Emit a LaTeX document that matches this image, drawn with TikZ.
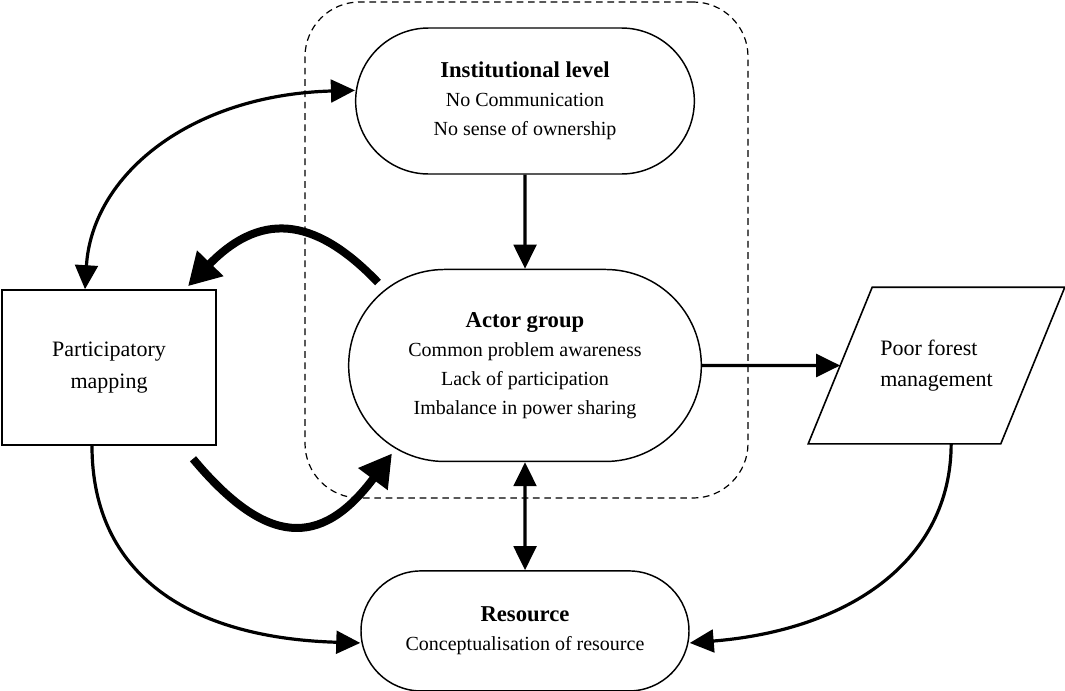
\documentclass[tikz,border=0pt]{standalone}
\usepackage{fontspec}
\setmainfont{Liberation Serif}
\usetikzlibrary{arrows.meta,positioning,shapes.misc}
\newcommand{\hd}[1]{{\fontsize{17}{21.75}\selectfont\bfseries #1}}
\tikzset{lvl/.style={draw,rounded rectangle,line width=1.1pt,align=center,font=\fontsize{15}{21.75}\selectfont,inner sep=2pt},pmbox/.style={draw,rectangle,line width=1.2pt,align=center,font=\fontsize{16.5}{23.5}\selectfont,minimum width=160.5pt,minimum height=116.25pt},pfbox/.style={pmbox,draw=none,align=left,minimum width=143.25pt},grp/.style={draw,dash pattern=on 5pt off 3.5pt,line width=0.9pt,rounded corners=41pt,minimum width=332.25pt,minimum height=372pt},flow/.style={-{Triangle[length=18pt,width=17pt]},line width=2.4pt},both/.style={flow,{Triangle[length=18pt,width=17pt]}-{Triangle[length=18pt,width=17pt]}},heavy/.style={-{Triangle[length=24pt,width=26pt]},line width=6pt}}
\begin{document}
\begin{tikzpicture}[x=0.75pt,y=-0.75pt,node distance=70.5pt]
\useasboundingbox (0,0) rectangle (1065,690);
\node[grp] (grp) at (526.5,250) {};
\node[lvl,minimum width=258pt,minimum height=109.5pt] (inst) at (525,101) {\hd{Institutional level}\\No Communication\\No sense of ownership};
\node[lvl,minimum width=268.5pt,minimum height=144pt,below=of inst] (actor) {\hd{Actor group}\\Common problem awareness\\Lack of participation\\Imbalance in power sharing};
\node[lvl,minimum width=250pt,minimum height=90pt,below=81pt of actor] (res) {\hd{Resource}\\Conceptualisation of resource};
\node[pmbox] (pm) at (109,367.5) {Participatory\\mapping};
\node[pfbox] (pf) at (936.5,365.5) {Poor forest\\management};
\draw[line width=1.2pt] ([xshift=24pt]pf.north west)--([xshift=24pt]pf.north east)--([xshift=-24pt]pf.south east)--([xshift=-24pt]pf.south west)--cycle;
\draw[both] ([xshift=-18pt]pm.north) .. controls (92,175) and (190,95) .. ([yshift=8pt]inst.west);
\draw[flow] (inst)--(actor);\draw[flow] (actor)--(pf);\draw[both] (actor)--(res);
\draw[heavy] ([shift={(-147,-83)}]actor.center) .. controls (320,222) and (265,207) .. ([shift={(79,-3)}]pm.north);
\draw[heavy] ([shift={(84,13)}]pm.south) .. controls (265,545) and (320,550) .. ([shift={(-133,88)}]actor.center);
\draw[flow] ([xshift=-12.75pt]pm.south) .. controls (92,575) and (190,638) .. ([yshift=-9pt]res.west);
\draw[flow] ([xshift=11pt]pf.south) .. controls (951,560) and (850,630) .. ([yshift=-9pt]res.east);
\end{tikzpicture}
\end{document}
